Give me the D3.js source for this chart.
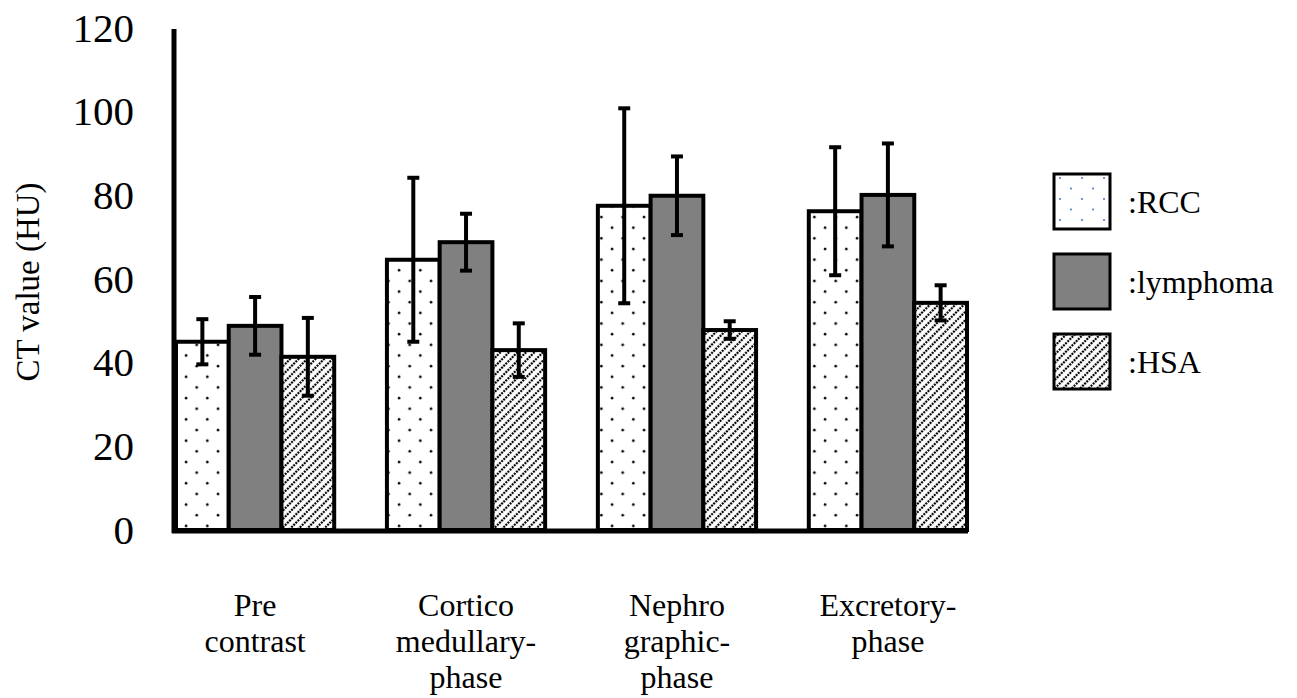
<!DOCTYPE html>
<html>
<head>
<meta charset="utf-8">
<script src="https://cdn.jsdelivr.net/npm/d3@7"></script>
<style>
  body { margin: 0; background: white; }
  svg text { font-family: "Liberation Serif", "Times New Roman", serif; fill: black; }
</style>
</head>
<body>
<div id="chart"></div>
<script>
// data
const phases = ['Pre contrast', 'Cortico medullary-phase', 'Nephro graphic-phase', 'Excretory-phase'];
const phaseLines = [['Pre', 'contrast'], ['Cortico', 'medullary-', 'phase'], ['Nephro', 'graphic-', 'phase'], ['Excretory-', 'phase']];
const groups = ['RCC', 'lymphoma', 'HSA'];
const rccMean = [45, 64.6, 77.5, 76.2];
const rccSd = [5.4, 19.6, 23.3, 15.3];
const lymphomaMean = [48.8, 68.8, 79.9, 80.1];
const lymphomaSd = [6.9, 6.8, 9.4, 12.3];
const hsaMean = [41.4, 43, 47.8, 54.3];
const hsaSd = [9.3, 6.4, 2.1, 4.2];
const yTicks = [0, 20, 40, 60, 80, 100, 120];

const means = [rccMean, lymphomaMean, hsaMean];
const sds = [rccSd, lymphomaSd, hsaSd];
const rows = [];
phases.forEach((p, i) => {
    groups.forEach((g, j) => rows.push({phase: p, group: g, mean: means[j][i], sd: sds[j][i]}));
});

const width = 1297, height = 698;
const serif = '"Liberation Serif", "Times New Roman", serif';
const svg = d3.select('#chart').append('svg')
    .attr('width', width)
    .attr('height', height);

// fill patterns
const defs = svg.append('defs');
const dots = defs.append('pattern')
    .attr('id', 'dots')
    .attr('patternUnits', 'userSpaceOnUse')
    .attr('width', 21.3).attr('height', 21.3);
dots.append('rect').attr('width', 21.3).attr('height', 21.3).attr('fill', 'white');
dots.append('circle').attr('cx', 5).attr('cy', 4).attr('r', 1.3).attr('fill', 'black');
dots.append('circle').attr('cx', 15.65).attr('cy', 14.65).attr('r', 1.3).attr('fill', 'black');

const dotsBlue = defs.append('pattern')
    .attr('id', 'dotsBlue')
    .attr('patternUnits', 'userSpaceOnUse')
    .attr('width', 22).attr('height', 21);
dotsBlue.append('rect').attr('width', 22).attr('height', 21).attr('fill', 'white');
dotsBlue.append('circle').attr('cx', 6).attr('cy', 4).attr('r', 1).attr('fill', '#4472c4');
dotsBlue.append('circle').attr('cx', 17).attr('cy', 14.5).attr('r', 1).attr('fill', '#4472c4');

const hatch = defs.append('pattern')
    .attr('id', 'hatch')
    .attr('patternUnits', 'userSpaceOnUse')
    .attr('width', 6).attr('height', 6)
    .attr('patternTransform', 'rotate(45)');
hatch.append('rect').attr('width', 6).attr('height', 6).attr('fill', 'white');
hatch.append('line')
    .attr('x1', 3).attr('y1', 0).attr('x2', 3).attr('y2', 6)
    .attr('stroke', 'black')
    .attr('stroke-width', 2.2)
    .attr('stroke-dasharray', '2 1');

const fills = {RCC: 'url(#dots)', lymphoma: '#808080', HSA: 'url(#hatch)'};
const legendFills = {RCC: 'url(#dotsBlue)', lymphoma: '#808080', HSA: 'url(#hatch)'};

// scales
const x0 = d3.scaleBand().domain(phases).range([176, 967]).paddingInner(0.25).paddingOuter(0);
const x1 = d3.scaleBand().domain(groups).range([0, x0.bandwidth()]);
const y = d3.scaleLinear().domain([0, 120]).range([530, 28]);

// bars
svg.append('g').selectAll('rect')
    .data(rows)
    .join('rect')
    .attr('x', d => x0(d.phase) + x1(d.group))
    .attr('y', d => y(d.mean))
    .attr('width', x1.bandwidth())
    .attr('height', d => y(0) - y(d.mean))
    .attr('fill', d => fills[d.group])
    .attr('stroke', 'black')
    .attr('stroke-width', 4);

// error bars
const err = svg.append('g').attr('stroke', 'black').attr('stroke-width', 4);
const cx = d => x0(d.phase) + x1(d.group) + x1.bandwidth() / 2;
err.selectAll('.stem').data(rows).join('line')
    .attr('class', 'stem')
    .attr('x1', cx).attr('x2', cx)
    .attr('y1', d => y(d.mean - d.sd)).attr('y2', d => y(d.mean + d.sd));
err.selectAll('.capTop').data(rows).join('line')
    .attr('class', 'capTop')
    .attr('x1', d => cx(d) - 6).attr('x2', d => cx(d) + 6)
    .attr('y1', d => y(d.mean + d.sd)).attr('y2', d => y(d.mean + d.sd));
err.selectAll('.capBot').data(rows).join('line')
    .attr('class', 'capBot')
    .attr('x1', d => cx(d) - 6).attr('x2', d => cx(d) + 6)
    .attr('y1', d => y(d.mean - d.sd)).attr('y2', d => y(d.mean - d.sd));

// axes: plain thick lines, no tick marks
const yAxis = d3.axisLeft(y).tickValues(yTicks).tickSize(0).tickPadding(40);
const yAxisG = svg.append('g')
    .attr('transform', 'translate(174,0)')
    .call(yAxis)
    .attr('font-family', serif);
yAxisG.select('.domain').remove();
yAxisG.selectAll('text')
    .style('font-size', '41px')
    .style('font-family', serif);

svg.append('line')
    .attr('x1', 174).attr('x2', 174)
    .attr('y1', 29).attr('y2', 533)
    .attr('stroke', 'black').attr('stroke-width', 5);
svg.append('line')
    .attr('x1', 172).attr('x2', 968)
    .attr('y1', 531).attr('y2', 531)
    .attr('stroke', 'black').attr('stroke-width', 5);

// category labels, broken into lines
const xLab = svg.append('g').selectAll('text')
    .data(phases)
    .join('text')
    .attr('text-anchor', 'middle')
    .style('font-size', '32px')
    .style('font-family', serif)
    .attr('transform', d => `translate(${x0(d) + x0.bandwidth() / 2},616)`);
xLab.selectAll('tspan')
    .data((d, i) => phaseLines[i])
    .join('tspan')
    .attr('x', 0)
    .attr('dy', (d, i) => i === 0 ? 0 : 36)
    .text(d => d);

// y axis title
svg.append('text')
    .attr('transform', 'translate(39,282) rotate(-90)')
    .attr('text-anchor', 'middle')
    .style('font-size', '33px')
    .style('font-family', serif)
    .text('CT value (HU)');

// legend
const legend = svg.append('g').selectAll('g')
    .data(groups)
    .join('g')
    .attr('transform', (d, i) => `translate(1054,${174 + i * 80})`);
legend.append('rect')
    .attr('width', 56).attr('height', 55)
    .attr('fill', d => legendFills[d])
    .attr('stroke', 'black')
    .attr('stroke-width', 3);
legend.append('text')
    .attr('x', 74).attr('y', 39)
    .style('font-size', '32px')
    .style('font-family', serif)
    .text(d => ':' + d);
</script>
</body>
</html>
